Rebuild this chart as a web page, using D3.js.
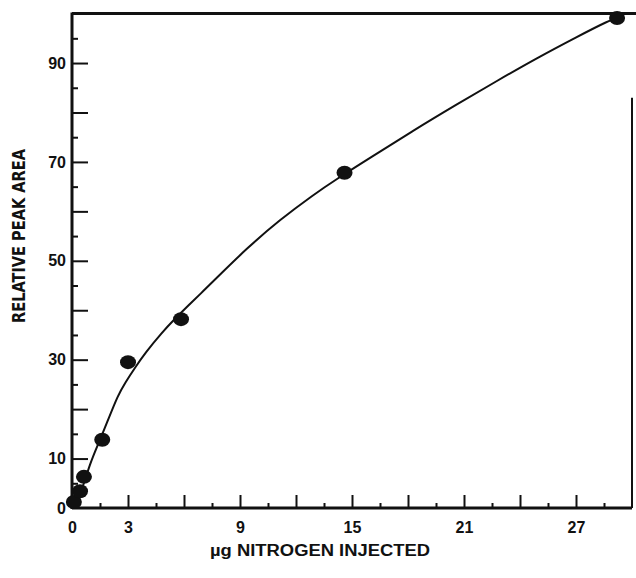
<!DOCTYPE html>
<html>
<head>
<meta charset="utf-8">
<script src="https://cdn.jsdelivr.net/npm/d3@7"></script>
<style>
  body { margin: 0; background: #fff; }
  svg { display: block; }
  .tick text { font-family: "Liberation Sans", Arial, sans-serif; font-weight: bold; font-size: 16px; fill: #111; }
  .domain { display: none; }
  .tick line { stroke: #111; stroke-width: 2; }
</style>
</head>
<body>
<div id="chart"></div>
<script>
// measured points (µg N, relative peak area)
const xVals = [0.1, 0.43, 0.64, 1.62, 3.0, 5.84, 14.6, 29.2];
const yVals = [1.2, 3.4, 6.3, 13.8, 29.5, 38.2, 67.8, 99.1];

// hand drawn calibration curve
const curveX = [0.05, 0.43, 0.96, 1.5, 1.93, 2.46, 2.84, 3.38, 3.91, 4.82, 5.52, 6.21, 6.96, 7.55, 9.38, 11.14, 12.91, 14.2, 15.96, 18.27, 20.6, 22.77, 24.9, 27.05, 28.82, 29.2];
const curveY = [0.6, 2.2, 9.1, 13.75, 17.8, 22.8, 25.3, 28.4, 31.3, 35.5, 38.3, 40.9, 43.6, 45.8, 52.6, 58.3, 63.3, 66.6, 70.8, 76.3, 81.6, 86.4, 91.0, 95.3, 98.7, 99.1];

const xLabelTicks = [0, 3, 9, 15, 21, 27];
const xMajorTicks = [3, 6, 9, 12, 15, 18, 21, 24, 27];
const xMinorTicks = [1.5, 4.5, 7.5, 10.5, 13.5, 16.5, 19.5, 22.5, 25.5, 28.5];
const yLabelTicks = [0, 10, 30, 50, 70, 90];
const yMajorTicks = [10, 20, 30, 40, 50, 60, 70, 80, 90];
const yMinorTicks = [5, 15, 25, 35, 45, 55, 65, 75, 85, 95];

const width = 636, height = 578;

const svg = d3.select("#chart")
    .append("svg")
    .attr("width", width)
    .attr("height", height);

const x = d3.scaleLinear().domain([0, 30]).range([72, 632]);
const y = d3.scaleLinear().domain([0, 100]).range([508, 13.6]);

// tick marks, drawn inward
svg.append("g")
    .attr("transform", `translate(0,${y(0)})`)
    .call(d3.axisBottom(x).tickValues(xMajorTicks).tickSize(-13).tickFormat(""));
svg.append("g")
    .attr("transform", `translate(0,${y(0)})`)
    .call(d3.axisBottom(x).tickValues(xMinorTicks).tickSize(-5).tickFormat(""));
svg.append("g")
    .attr("transform", `translate(0,${y(0)})`)
    .call(d3.axisBottom(x).tickValues(xLabelTicks).tickSize(0).tickPadding(14).tickFormat(d3.format("d")));

svg.append("g")
    .attr("transform", `translate(${x(0)},0)`)
    .call(d3.axisLeft(y).tickValues(yMajorTicks).tickSize(-16).tickFormat(""));
svg.append("g")
    .attr("transform", `translate(${x(0)},0)`)
    .call(d3.axisLeft(y).tickValues(yMinorTicks).tickSize(-6).tickFormat(""));
svg.append("g")
    .attr("transform", `translate(${x(0)},0)`)
    .call(d3.axisLeft(y).tickValues(yLabelTicks).tickSize(0).tickPadding(6).tickFormat(d3.format("d")));

// frame
const frame = svg.append("g").attr("stroke", "#111").attr("fill", "none");
frame.append("line")
    .attr("x1", x(0)).attr("x2", x(0))
    .attr("y1", y(100) - 1).attr("y2", y(0) + 1)
    .attr("stroke-width", 3);
frame.append("line")
    .attr("x1", x(0)).attr("x2", x(30))
    .attr("y1", y(0)).attr("y2", y(0))
    .attr("stroke-width", 3);
frame.append("line")
    .attr("x1", x(0)).attr("x2", width)
    .attr("y1", y(100)).attr("y2", y(100))
    .attr("stroke-width", 3);
frame.append("line")
    .attr("x1", x(30)).attr("x2", x(30))
    .attr("y1", y(83)).attr("y2", y(0))
    .attr("stroke-width", 2);

// fitted curve
const line = d3.line()
    .x(d => x(d[0]))
    .y(d => y(d[1]))
    .curve(d3.curveBasis);

svg.append("path")
    .datum(d3.zip(curveX, curveY))
    .attr("d", line)
    .attr("fill", "none")
    .attr("stroke", "#111")
    .attr("stroke-width", 2);

// data points
svg.selectAll("ellipse.pt")
    .data(d3.zip(xVals, yVals))
    .enter()
    .append("ellipse")
    .attr("class", "pt")
    .attr("cx", d => x(d[0]))
    .attr("cy", d => y(d[1]))
    .attr("rx", 8)
    .attr("ry", 7)
    .attr("fill", "#111");

// axis titles
svg.append("text")
    .attr("transform", `translate(25,236) rotate(-90)`)
    .attr("text-anchor", "middle")
    .attr("textLength", 174)
    .attr("lengthAdjust", "spacingAndGlyphs")
    .style("font-family", "'Liberation Sans Narrow', 'DejaVu Sans Condensed', Arial, sans-serif")
    .style("font-weight", "bold")
    .style("font-size", "18px")
    .attr("fill", "#111")
    .text("RELATIVE PEAK AREA");

svg.append("text")
    .attr("x", 320)
    .attr("y", 556)
    .attr("text-anchor", "middle")
    .attr("textLength", 220)
    .attr("lengthAdjust", "spacingAndGlyphs")
    .style("font-family", "'Liberation Sans', Arial, sans-serif")
    .style("font-weight", "bold")
    .style("font-size", "16px")
    .attr("fill", "#111")
    .text("µg NITROGEN INJECTED");
</script>
</body>
</html>
